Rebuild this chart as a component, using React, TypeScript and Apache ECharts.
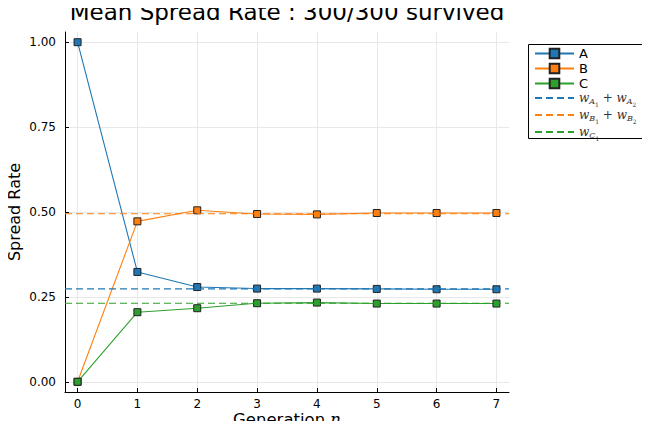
import React, { useEffect, useRef } from "react";
import * as echarts from "echarts";

const generations = [0, 1, 2, 3, 4, 5, 6, 7];
const seriesA = [1.0, 0.3235, 0.279, 0.2745, 0.2745, 0.2735, 0.2725, 0.2725];
const seriesB = [0.0, 0.4725, 0.505, 0.494, 0.493, 0.497, 0.497, 0.497];
const seriesC = [0.0, 0.205, 0.2167, 0.2314, 0.2333, 0.2304, 0.2304, 0.2304];
const refA = 0.2735;
const refB = 0.495;
const refC = 0.2314;
const xTicks = [0, 1, 2, 3, 4, 5, 6, 7];
const yTicks = [0, 0.25, 0.5, 0.75, 1.0];

const BLUE = "#1f77b4";
const ORANGE = "#ff7f0e";
const GREEN = "#2ca02c";
const FONT = "DejaVu Sans";

const X_MIN = -0.21;
const X_MAX = 7.21;

export default function App() {
  const ref = useRef<HTMLDivElement>(null);
  useEffect(() => {
    const chart = echarts.init(ref.current!, undefined, { renderer: "svg" });
    const markerSeries = (name: string, color: string, vals: number[]) => ({
      name,
      type: "line",
      data: generations.map((g, i) => [g, vals[i]]),
      symbol: "rect",
      symbolSize: 7,
      color,
      itemStyle: { color, borderColor: "#222", borderWidth: 1 },
      lineStyle: { color, width: 1.1 },
      z: 3,
    });
    const hline = (name: string, color: string, v: number) => ({
      name,
      type: "line",
      data: [
        [X_MIN, v],
        [X_MAX, v],
      ],
      symbol: "none",
      color,
      lineStyle: { color, width: 1.1, type: [7, 4] },
      z: 4,
    });
    const sub = {
      w: { fontFamily: "DejaVu Serif", fontStyle: "italic", fontSize: 12, color: "#333" },
      s: { fontFamily: "DejaVu Serif", fontStyle: "italic", fontSize: 8, color: "#333", padding: [7, 0, 0, 0] },
      ss: { fontFamily: "DejaVu Serif", fontSize: 6, color: "#333", padding: [12, 0, 0, 0] },
      p: { fontFamily: "DejaVu Serif", fontSize: 12, color: "#333" },
    };
    const legendLabels: Record<string, string> = {
      A: "A",
      B: "B",
      C: "C",
      wA: "{w|w}{s|A}{ss|1}{p| + }{w|w}{s|A}{ss|2}",
      wB: "{w|w}{s|B}{ss|1}{p| + }{w|w}{s|B}{ss|2}",
      wC: "{w|w}{s|C}{ss|1}",
    };
    const hidden = { color: "rgba(0,0,0,0)", borderWidth: 0, opacity: 0 };
    chart.setOption({
      animation: false,
      backgroundColor: "#fff",
      title: {
        text: "Mean Spread Rate : 300/300 survived",
        left: 287,
        top: 0,
        padding: 0,
        textAlign: "center",
        textStyle: { fontFamily: FONT, fontSize: 23, fontWeight: "normal", color: "#000" },
      },
      graphic: [
        {
          type: "rect",
          shape: { x: 528.5, y: 44.5, width: 119, height: 94 },
          style: { fill: "#fff", stroke: "#000", lineWidth: 1 },
          z: 10,
        },
      ],
      legend: {
        orient: "vertical",
        left: 534,
        top: 47,
        padding: 0,
        itemWidth: 39,
        itemHeight: 12,
        itemGap: 2,
        z: 20,
        selectedMode: false,
        data: [
          "A",
          "B",
          "C",
          { name: "wA", itemStyle: hidden },
          { name: "wB", itemStyle: hidden },
          { name: "wC", itemStyle: hidden },
        ],
        formatter: (n: string) => legendLabels[n],
        textStyle: { fontFamily: FONT, fontSize: 13, color: "#000", rich: sub },
      },
      grid: { left: 65, right: 141, top: 32, bottom: 37, outerBoundsMode: "none", containLabel: false },
      xAxis: {
        type: "value",
        min: X_MIN,
        max: X_MAX,
        name: "Generation {i|n}",
        nameLocation: "middle",
        nameGap: 19,
        nameMoveOverlap: false,
        nameTextStyle: {
          fontFamily: FONT,
          fontSize: 16.5,
          color: "#000",
          rich: { i: { fontFamily: "DejaVu Serif", fontStyle: "italic", fontSize: 16.5, color: "#000" } },
        },
        axisLine: { show: true, onZero: false, lineStyle: { color: "#000", width: 1 } },
        axisTick: { show: true, inside: true, length: 4, customValues: xTicks, lineStyle: { color: "#000" } },
        axisLabel: {
          customValues: xTicks,
          margin: 6,
          fontFamily: FONT,
          fontSize: 12,
          color: "#000",
          formatter: (v: number) => String(v),
        },
        splitLine: { show: true, customValues: xTicks, lineStyle: { color: "#e8e8e8", width: 1 } },
      },
      yAxis: {
        type: "value",
        min: -0.03,
        max: 1.03,
        name: "Spread Rate",
        nameLocation: "middle",
        nameGap: 43,
        nameMoveOverlap: false,
        nameTextStyle: { fontFamily: FONT, fontSize: 16, color: "#000" },
        axisLine: { show: true, onZero: false, lineStyle: { color: "#000", width: 1 } },
        axisTick: { show: true, inside: true, length: 4, customValues: yTicks, lineStyle: { color: "#000" } },
        axisLabel: {
          customValues: yTicks,
          margin: 9,
          fontFamily: FONT,
          fontSize: 12,
          color: "#000",
          formatter: (v: number) => v.toFixed(2),
        },
        splitLine: { show: true, customValues: yTicks, lineStyle: { color: "#e8e8e8", width: 1 } },
      },
      series: [
        markerSeries("A", BLUE, seriesA),
        markerSeries("B", ORANGE, seriesB),
        markerSeries("C", GREEN, seriesC),
        hline("wA", BLUE, refA),
        hline("wB", ORANGE, refB),
        hline("wC", GREEN, refC),
      ],
    });
    return () => chart.dispose();
  }, []);
  return <div ref={ref} style={{ width: 650, height: 429, margin: -8 }} />;
}
